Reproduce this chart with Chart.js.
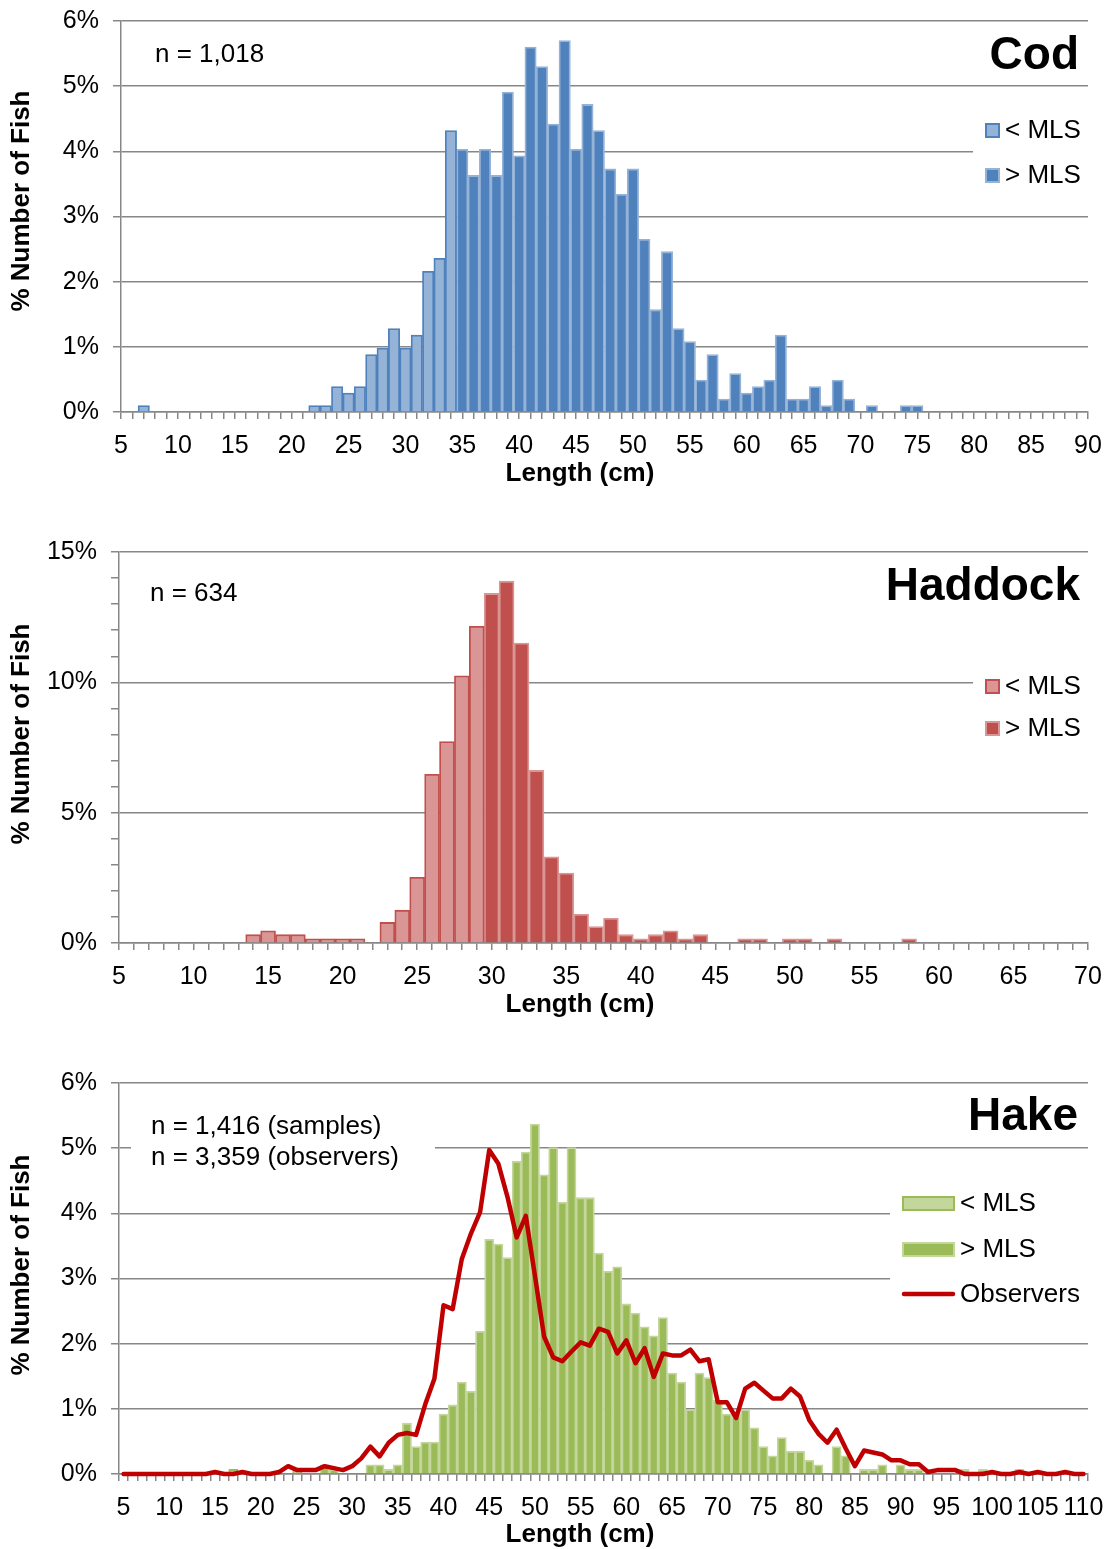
<!DOCTYPE html>
<html><head><meta charset="utf-8">
<script src="https://cdn.jsdelivr.net/npm/chart.js@4.4.0/dist/chart.umd.min.js"></script>
<style>
html,body{margin:0;padding:0;background:#fff;overflow:hidden;width:1112px;height:1549px}
.p{position:absolute;left:0;width:1112px;height:531px}
</style></head><body>
<div class="p" style="top:0"><canvas id="cod" width="1112" height="531"></canvas></div>
<div class="p" style="top:531px"><canvas id="haddock" width="1112" height="531"></canvas></div>
<div class="p" style="top:1062px"><canvas id="hake" width="1112" height="531"></canvas></div>
<script>
// ---------- DATA ----------
const codLengths = [5,6,7,8,9,10,11,12,13,14,15,16,17,18,19,20,21,22,23,24,25,26,27,28,29,30,31,32,33,34,35,36,37,38,39,40,41,42,43,44,45,46,47,48,49,50,51,52,53,54,55,56,57,58,59,60,61,62,63,64,65,66,67,68,69,70,71,72,73,74,75,76,77,78,79,80,81,82,83,84,85,86,87,88,89,90];
const codBelowLen = [7,22,23,24,25,26,27,28,29,30,31,32,33,34];
const codBelowPct = [0.10,0.10,0.10,0.39,0.29,0.39,0.88,0.98,1.28,0.98,1.18,2.16,2.36,4.32];
const codAboveLen = [35,36,37,38,39,40,41,42,43,44,45,46,47,48,49,50,51,52,53,54,55,56,57,58,59,60,61,62,63,64,65,66,67,68,69,71,74,75];
const codAbovePct = [4.03,3.63,4.03,3.63,4.91,3.93,5.60,5.30,4.42,5.70,4.03,4.72,4.32,3.73,3.34,3.73,2.65,1.57,2.46,1.28,1.08,0.49,0.88,0.20,0.59,0.29,0.39,0.49,1.18,0.20,0.20,0.39,0.10,0.49,0.20,0.10,0.10,0.10];

const haddockLengths = [5,6,7,8,9,10,11,12,13,14,15,16,17,18,19,20,21,22,23,24,25,26,27,28,29,30,31,32,33,34,35,36,37,38,39,40,41,42,43,44,45,46,47,48,49,50,51,52,53,54,55,56,57,58,59,60,61,62,63,64,65,66,67,68,69,70];
const haddockBelowLen = [14,15,16,17,18,19,20,21,23,24,25,26,27,28,29];
const haddockBelowPct = [0.32,0.47,0.32,0.32,0.16,0.16,0.16,0.16,0.79,1.26,2.52,6.47,7.73,10.25,12.15];
const haddockAboveLen = [30,31,32,33,34,35,36,37,38,39,40,41,42,43,44,47,48,50,51,53,58];
const haddockAbovePct = [13.41,13.88,11.51,6.62,3.31,2.68,1.10,0.63,0.95,0.32,0.16,0.32,0.47,0.16,0.32,0.16,0.16,0.16,0.16,0.16,0.16];

const hakeLengths = [5,6,7,8,9,10,11,12,13,14,15,16,17,18,19,20,21,22,23,24,25,26,27,28,29,30,31,32,33,34,35,36,37,38,39,40,41,42,43,44,45,46,47,48,49,50,51,52,53,54,55,56,57,58,59,60,61,62,63,64,65,66,67,68,69,70,71,72,73,74,75,76,77,78,79,80,81,82,83,84,85,86,87,88,89,90,91,92,93,94,95,96,97,98,99,100,101,102,103,104,105,106,107,108,109,110];
const hakeBelowLen = [17,24];
const hakeBelowPct = [0.07,0.07];
const hakeAboveLen = [27,28,32,33,34,35,36,37,38,39,40,41,42,43,44,45,46,47,48,49,50,51,52,53,54,55,56,57,58,59,60,61,62,63,64,65,66,67,68,69,70,71,72,73,74,75,76,77,78,79,80,81,83,84,86,87,88,90,91,92,97,99,103];
const hakeAbovePct = [0.14,0.07,0.14,0.14,0.07,0.14,0.78,0.42,0.49,0.49,0.92,1.06,1.41,1.27,2.19,3.60,3.53,3.32,4.80,4.94,5.37,4.59,5.01,4.17,5.01,4.24,4.24,3.39,3.11,3.18,2.61,2.47,2.26,2.12,2.40,1.55,1.41,0.99,1.55,1.48,1.13,0.92,0.92,0.99,0.71,0.42,0.28,0.56,0.35,0.35,0.21,0.14,0.42,0.28,0.07,0.07,0.14,0.14,0.07,0.07,0.07,0.07,0.07];
const hakeObservers = [
  0,0,0,0,0,0,0,0,0,0,
  0.03,0,0,0.03,0,0,0,0.03,0.12,0.06,
  0.06,0.06,0.12,0.09,0.06,0.12,0.24,0.42,0.27,0.48,
  0.60,0.63,0.60,1.07,1.46,2.59,2.53,3.30,3.69,4.02,
  4.97,4.76,4.25,3.63,3.96,3.04,2.11,1.79,1.73,1.88,
  2.02,1.97,2.23,2.18,1.85,2.05,1.70,1.93,1.49,1.85,
  1.82,1.82,1.91,1.73,1.76,1.10,1.10,0.86,1.31,1.40,
  1.28,1.16,1.16,1.31,1.19,0.83,0.62,0.48,0.68,0.39,
  0.12,0.36,0.33,0.30,0.21,0.21,0.15,0.15,0.03,0.06,
  0.06,0.06,0,0,0,0.03,0,0,0.03,0,
  0.03,0,0,0.03,0,0];

// ---------- STYLE ----------
const FONT = '"Liberation Sans", Arial, Helvetica, sans-serif';
const GRID = '#878787';
Chart.defaults.font.family = FONT;
Chart.defaults.color = '#000';

function pairs(lens, vals){ return lens.map((l,i)=>({x:l, y:vals[i]})); }

function txt(ctx, s, x, y, size, bold, align){
  ctx.font = (bold ? 'bold ' : '') + size + 'px ' + FONT;
  ctx.fillStyle = '#000';
  ctx.textAlign = align || 'left';
  ctx.textBaseline = 'middle';
  ctx.fillText(s, x, y);
}
function yTitle(ctx, yc){
  ctx.save();
  ctx.translate(22, yc);
  ctx.rotate(-Math.PI/2);
  txt(ctx, '% Number of Fish', 0, 0, 26, true, 'center');
  ctx.restore();
}
function box(ctx, x, y, w, h, fill, stroke, lw){
  ctx.fillStyle = fill; ctx.fillRect(x, y, w, h);
  if (stroke){ ctx.strokeStyle = stroke; ctx.lineWidth = lw; ctx.strokeRect(x+lw/2, y+lw/2, w-lw, h-lw); }
}

function xAxis(offset){
  return {
    type: 'category', offset: offset,
    grid: { offset: offset, drawOnChartArea: false, drawTicks: true, tickLength: 7, color: GRID, lineWidth: 1.5 },
    border: { display: true, color: GRID, width: 1.5 },
    ticks: { autoSkip: false, maxRotation: 0, minRotation: 0, padding: 12, color: '#000', font: { size: 25 },
      callback: function(v){ const l = this.getLabelForValue(v); return (l % 5 === 0) ? String(l) : ''; } },
    afterFit: s => { s.height = 77; s.paddingLeft = 0; s.paddingRight = 0; }
  };
}
function yAxis(max, major, yAxisW){
  return {
    min: 0, max: max,
    grid: { color: c => (c.tick && Math.round(c.tick.value) % major === 0) ? GRID : 'rgba(0,0,0,0)', tickColor: GRID, lineWidth: 1.5, tickLength: 8, drawTicks: true },
    border: { display: true, color: GRID, width: 1.5 },
    ticks: { stepSize: 1, autoSkip: false, padding: 14, color: '#000', font: { size: 25 },
      callback: v => (Math.round(v) % major === 0) ? v + '%' : '' },
    afterFit: s => { s.width = yAxisW; s.paddingTop = 0; s.paddingBottom = 0; }
  };
}
function baseOptions(xOffset, yMax, yMajor, yAxisW){
  return {
    responsive: false, animation: false, devicePixelRatio: 1,
    layout: { padding: { top: 21, right: 24, bottom: 42, left: 0 } },
    plugins: { legend: { display: false }, tooltip: { enabled: false } },
    scales: { x: xAxis(xOffset), y: yAxis(yMax, yMajor, yAxisW) }
  };
}
function barSet(lens, vals, fill, border, label){
  return { type: 'bar', label: label, data: pairs(lens, vals), backgroundColor: fill, borderColor: border,
    borderWidth: 1.8, grouped: false, barPercentage: 1, categoryPercentage: 1, order: 1 };
}

// ---------- COD ----------
new Chart(document.getElementById('cod'), {
  type: 'bar',
  data: { labels: codLengths, datasets: [
    barSet(codBelowLen, codBelowPct, '#95B3D7', '#4F81BD', '< MLS'),
    barSet(codAboveLen, codAbovePct, '#4F81BD', '#95B3D7', '> MLS')
  ]},
  options: baseOptions(false, 6, 1, 121),
  plugins: [{ id: 'codText', afterDraw(chart){
    const ctx = chart.ctx; ctx.save();
    txt(ctx, 'n = 1,018', 155, 55, 26, false, 'left');
    txt(ctx, 'Cod', 1079, 56, 46, true, 'right');
    box(ctx, 973, 110, 115, 86, '#fff');
    box(ctx, 985, 123, 15, 15, '#95B3D7', '#4F81BD', 2);
    box(ctx, 985, 168, 15, 15, '#4F81BD', '#95B3D7', 2);
    txt(ctx, '< MLS', 1005, 131, 26, false, 'left');
    txt(ctx, '> MLS', 1005, 176, 26, false, 'left');
    yTitle(ctx, 201);
    txt(ctx, 'Length (cm)', 580, 474, 26, true, 'center');
    ctx.restore();
  }}]
});

// ---------- HADDOCK ----------
new Chart(document.getElementById('haddock'), {
  type: 'bar',
  data: { labels: haddockLengths, datasets: [
    barSet(haddockBelowLen, haddockBelowPct, '#D99694', '#C0504D', '< MLS'),
    barSet(haddockAboveLen, haddockAbovePct, '#C0504D', '#D99694', '> MLS')
  ]},
  options: baseOptions(false, 15, 5, 119),
  plugins: [{ id: 'hadText', afterDraw(chart){
    const ctx = chart.ctx; ctx.save();
    txt(ctx, 'n = 634', 150, 63, 26, false, 'left');
    txt(ctx, 'Haddock', 1080, 56, 46, true, 'right');
    box(ctx, 973, 135, 115, 86, '#fff');
    box(ctx, 985, 148, 15, 15, '#D99694', '#C0504D', 2);
    box(ctx, 985, 190, 15, 15, '#C0504D', '#D99694', 2);
    txt(ctx, '< MLS', 1005, 156, 26, false, 'left');
    txt(ctx, '> MLS', 1005, 198, 26, false, 'left');
    yTitle(ctx, 203);
    txt(ctx, 'Length (cm)', 580, 474, 26, true, 'center');
    ctx.restore();
  }}]
});

// ---------- HAKE ----------
new Chart(document.getElementById('hake'), {
  type: 'bar',
  data: { labels: hakeLengths, datasets: [
    { type: 'line', label: 'Observers', data: hakeObservers, borderColor: '#C00000', backgroundColor: '#C00000',
      borderWidth: 4.5, pointRadius: 0, tension: 0, borderJoinStyle: 'round', borderCapStyle: 'round', order: 0, clip: 6 },
    barSet(hakeBelowLen, hakeBelowPct, '#C3D69B', '#9BBB59', '< MLS'),
    barSet(hakeAboveLen, hakeAbovePct, '#9BBB59', '#C3D69B', '> MLS')
  ]},
  options: baseOptions(true, 6, 1, 119),
  plugins: [{ id: 'hakeText', afterDraw(chart){
    const ctx = chart.ctx; ctx.save();
    box(ctx, 131, 46, 304, 68, '#fff');
    txt(ctx, 'n = 1,416 (samples)', 151, 65, 26, false, 'left');
    txt(ctx, 'n = 3,359 (observers)', 151, 96, 26, false, 'left');
    txt(ctx, 'Hake', 1078, 55, 46, true, 'right');
    box(ctx, 890, 120, 198, 134, '#fff');
    box(ctx, 902, 134, 53, 15, '#C3D69B', '#9BBB59', 2);
    box(ctx, 902, 180, 53, 15, '#9BBB59', '#C3D69B', 2);
    ctx.strokeStyle = '#C00000'; ctx.lineWidth = 4.5; ctx.lineCap = 'round';
    ctx.beginPath(); ctx.moveTo(904, 232); ctx.lineTo(953, 232); ctx.stroke();
    txt(ctx, '< MLS', 960, 142, 26, false, 'left');
    txt(ctx, '> MLS', 960, 188, 26, false, 'left');
    txt(ctx, 'Observers', 960, 233, 26, false, 'left');
    yTitle(ctx, 203);
    txt(ctx, 'Length (cm)', 580, 473, 26, true, 'center');
    ctx.restore();
  }}]
});
</script></body></html>
